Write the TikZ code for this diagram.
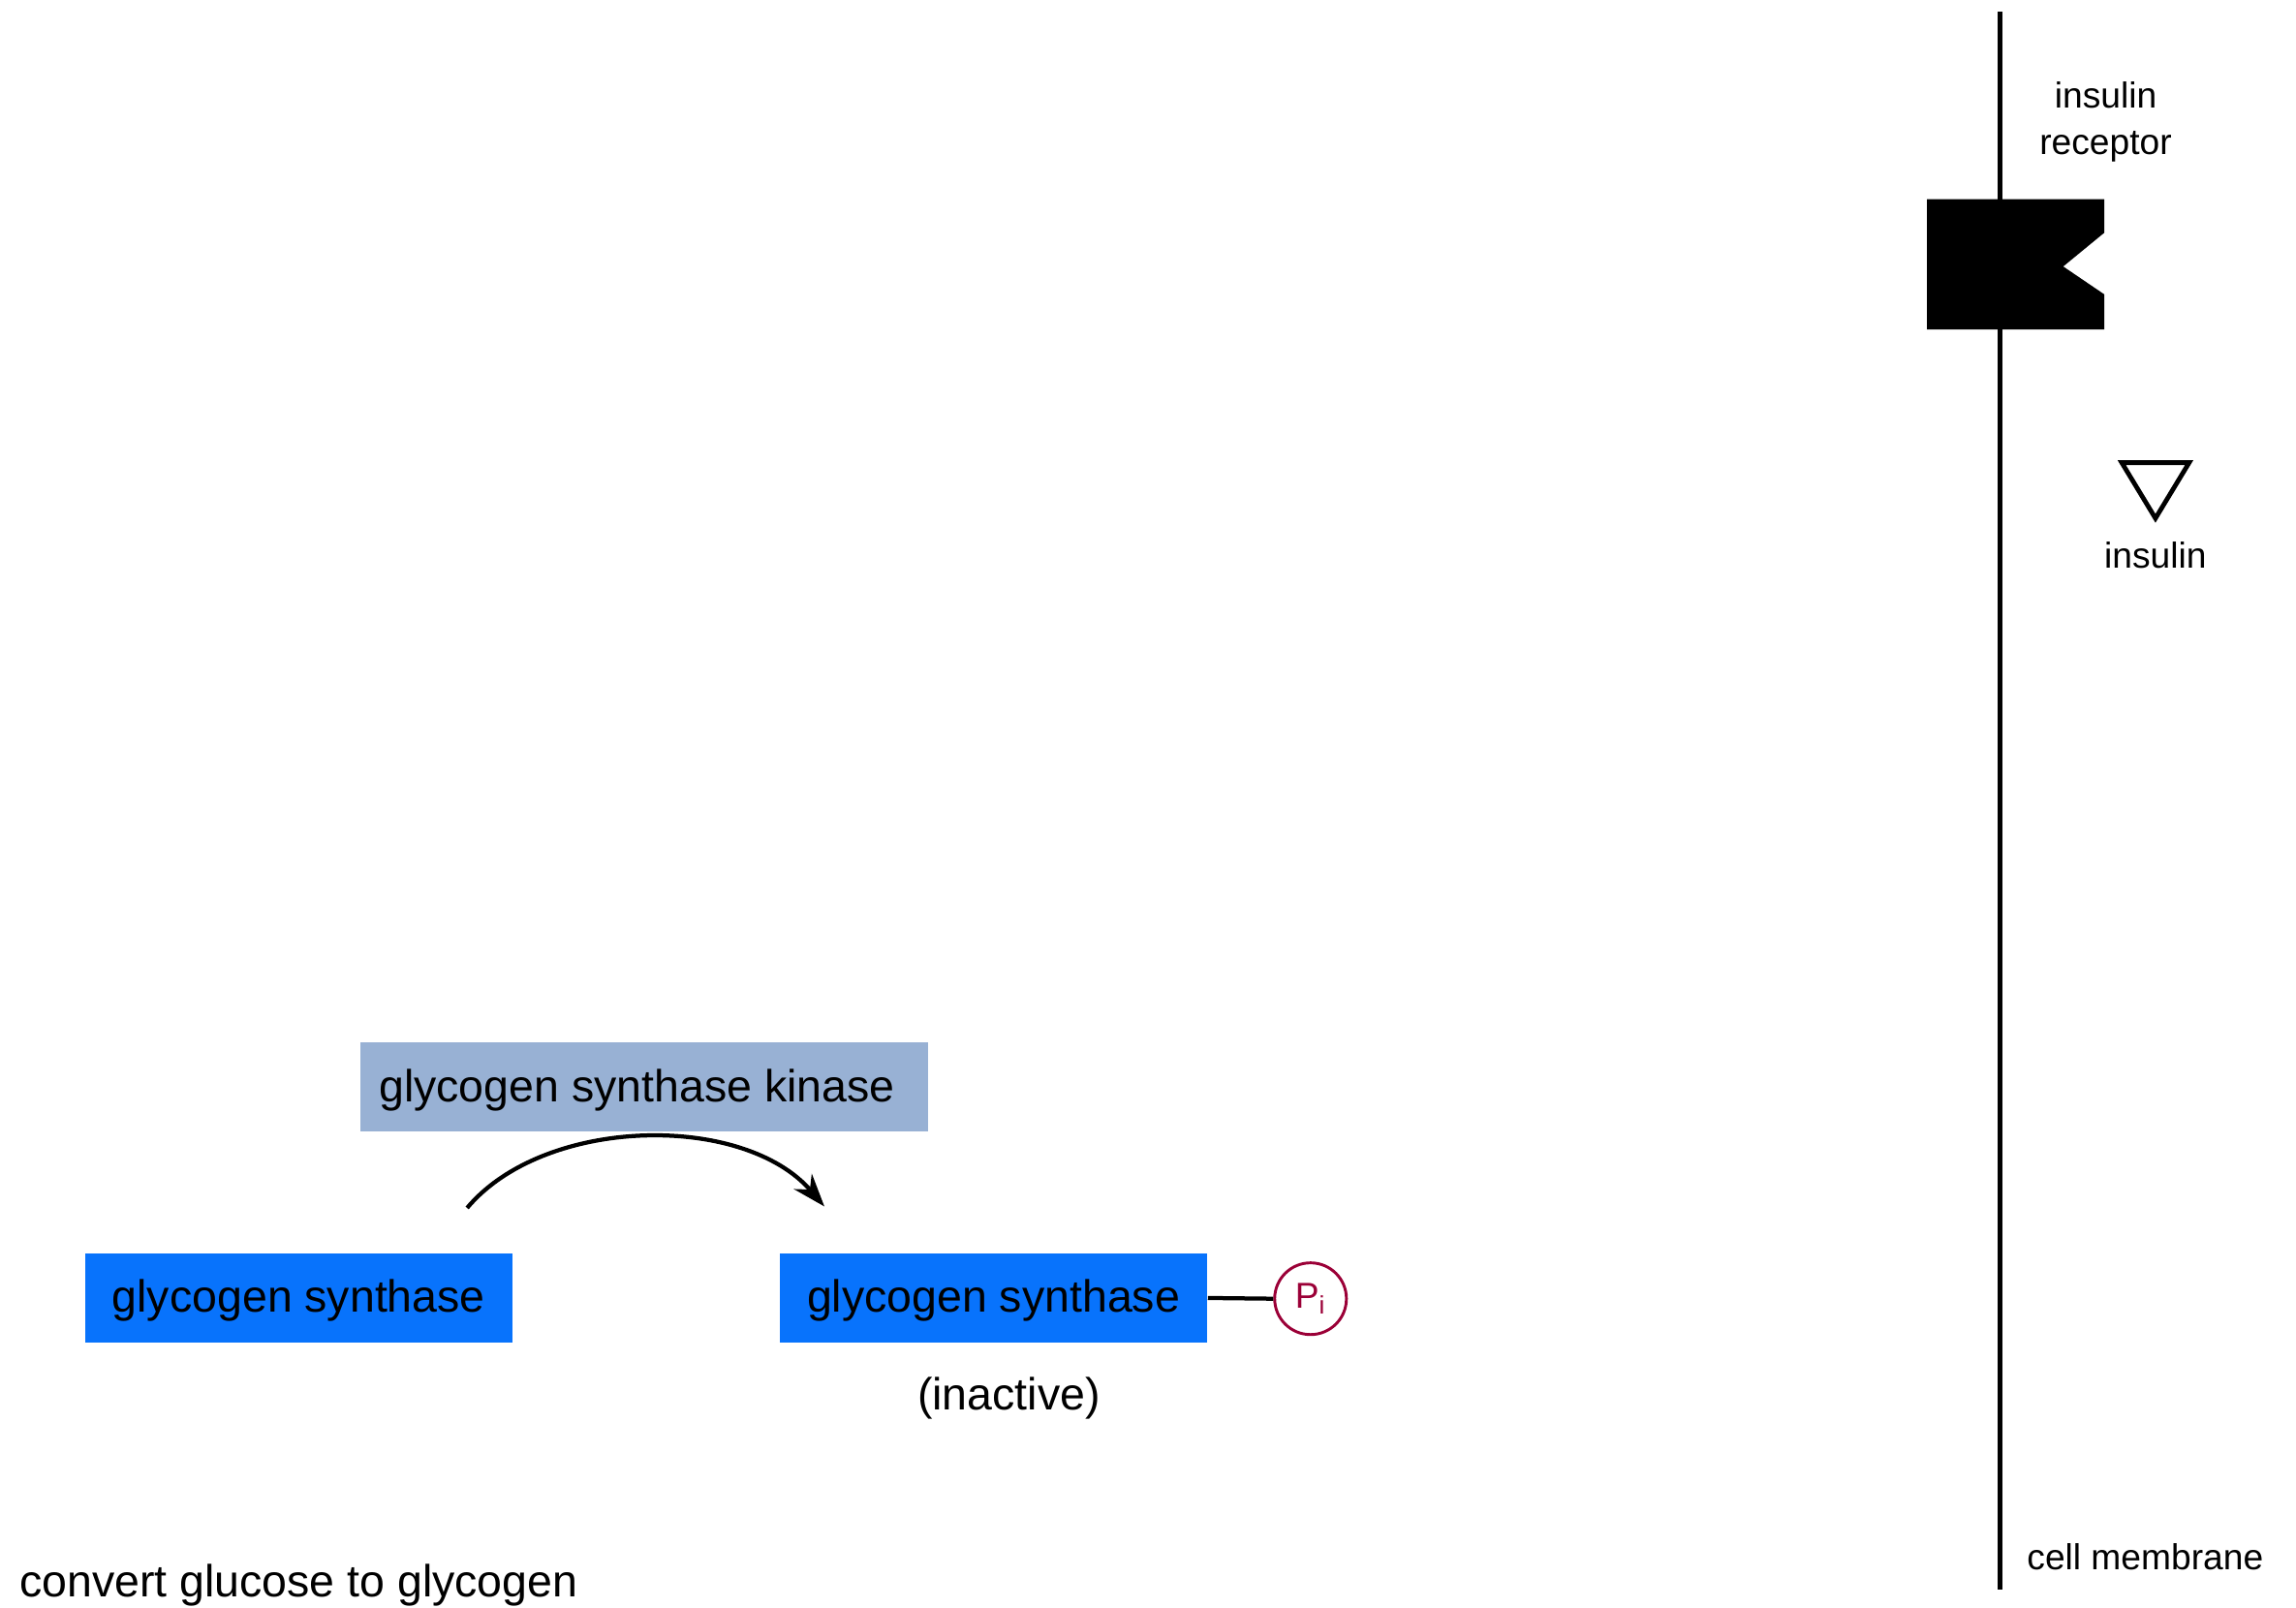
\documentclass[tikz,border=0pt]{standalone}
\usepackage{fontspec}
\setmainfont{Liberation Sans}
\usetikzlibrary{arrows.meta}
\definecolor{gskblue}{RGB}{152,177,212}
\definecolor{gsblue}{RGB}{8,115,252}
\definecolor{pired}{RGB}{155,0,55}
\newcommand{\lowertext}[1]{\raisebox{0pt}[\dimexpr\height+0.8mm\relax][\depth]{#1}}
\tikzset{
  gsbox/.style={fill=gsblue, minimum width=58.4mm, minimum height=12.2mm, inner sep=0pt, font=\fontsize{17.5}{20}\selectfont},
  gskbox/.style={fill=gskblue, minimum width=77.6mm, minimum height=12.2mm, inner sep=0pt, font=\fontsize{17.5}{20}\selectfont},
  bigtext/.style={inner sep=0pt, font=\fontsize{17.5}{20}\selectfont},
  smalltext/.style={inner sep=0pt, align=center, font=\fontsize{14}{18}\selectfont},
  pcircle/.style={circle, draw=pired, line width=1.1pt, minimum size=9.8mm, inner sep=0pt, text=pired, font=\fontsize{14}{16}\selectfont},
  membrane/.style={line width=1.8pt},
  connector/.style={line width=1.6pt},
}
\begin{document}
\begin{tikzpicture}[x=0.2mm, y=-0.2mm]
\useasboundingbox (0,0) rectangle (1568,1098);
% boxes
\node[gskbox] (gsk) at (440,742.5) {\hspace*{-2mm}\lowertext{glycogen synthase kinase}};
\node[gsbox] (gs1) at (204,886.5) {\lowertext{glycogen synthase}};
\node[gsbox] (gs2) at (678.5,886.5) {\lowertext{glycogen synthase}};
\node[pcircle] (pi) at (895,887) {P\textsubscript{i}};
\draw[connector] (gs2.east) -- (pi.west);
\node[bigtext] (inact) at (689,955) {(inactive)};
\node[bigtext, anchor=west] (conv) at (13,1083) {convert glucose to glycogen};
% arrow
\coordinate (arrS) at (319,825);
\coordinate (arrE) at (563,824);
\draw[connector, -{Stealth[length=4.5mm, width=3.2mm]}] (arrS) .. controls (372,762) and (508,760) .. (arrE);
% membrane
\coordinate (memtop) at (1366,8);
\coordinate (membot) at (1366,1086);
\draw[membrane] (memtop) -- (membot);
% receptor
\fill (1316,136) -- (1437,136) -- (1437,159) -- (1409,182) -- (1437,201) -- (1437,225) -- (1316,225) -- cycle;
\node[smalltext] (rlab) at (1438,83.5) {insulin\\receptor};
% insulin
\draw[line width=1.8pt, line join=miter] (1449,316) -- (1495,316) -- (1472,354) -- cycle;
\node[smalltext] (ins) at (1472,379) {insulin};
\node[smalltext] (cm) at (1465,1063) {cell membrane};
\end{tikzpicture}
\end{document}
